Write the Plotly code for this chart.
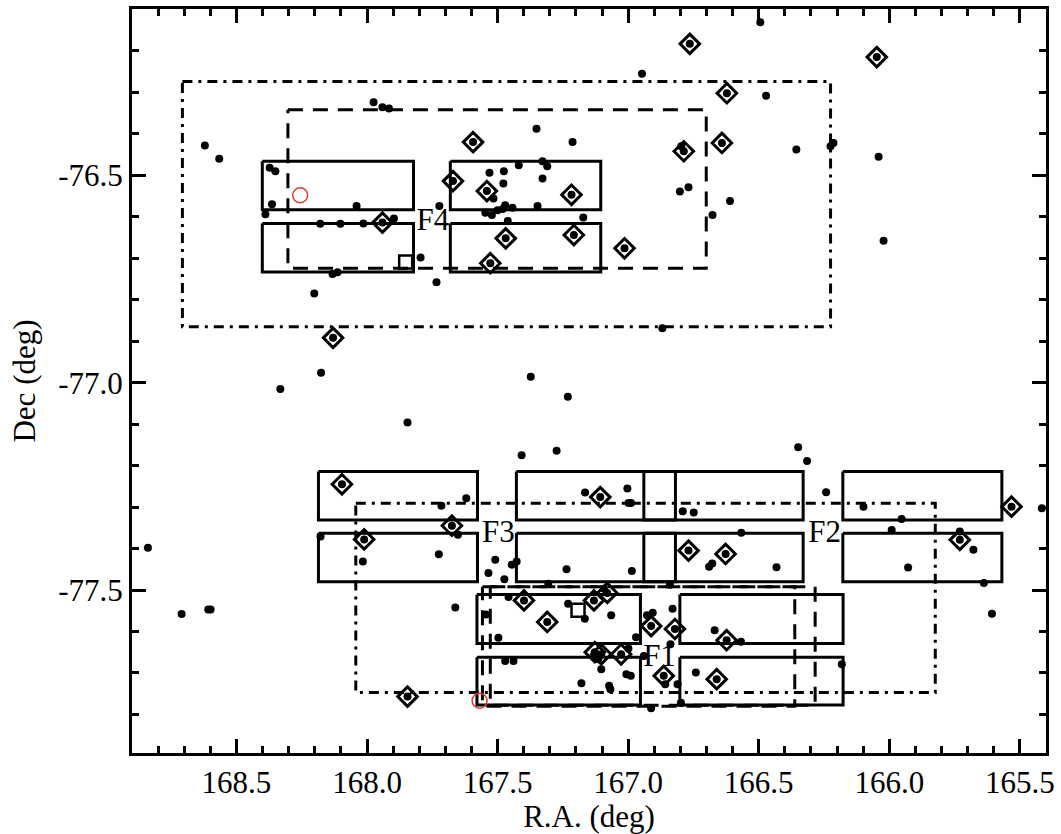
import plotly.graph_objects as go

# ---------------- data (R.A., Dec in degrees) ----------------
dots_ra = [168.621, 168.566, 167.975, 167.941, 167.916, 168.373, 168.351, 168.364, 168.389, 168.040,
           168.179, 168.102, 168.014, 167.897, 167.723, 167.795, 167.734, 168.202, 168.132, 168.113,
           168.176, 167.351, 167.213, 167.531, 167.476, 167.419, 167.328, 167.310, 167.478, 167.328,
           167.516, 167.547, 167.522, 167.500, 167.480, 167.471, 167.443, 167.347, 167.461, 167.172,
           166.494, 166.947, 166.472, 166.797, 166.356, 166.225, 166.214, 166.041, 166.022, 166.802,
           166.769, 166.610, 166.677, 166.869, 167.373,
           168.332, 167.845, 168.839, 168.710, 168.608, 168.599, 167.620, 167.715, 167.652, 168.178,
           168.016, 167.725, 167.662, 167.509, 167.535, 167.474, 167.446, 167.427, 167.236, 166.986,
           166.690, 166.678, 167.306, 166.840, 167.458, 167.230, 167.166, 167.093, 167.065, 166.970,
           167.497, 167.545, 166.928, 166.906, 166.830, 166.669, 166.838, 166.999, 167.115, 167.103,
           167.471, 167.439, 166.940, 167.007, 166.990, 167.179, 167.073, 167.068, 166.811, 166.741,
           166.912, 166.798, 166.349, 166.315, 166.242, 166.099, 165.953, 165.991, 166.791, 166.749,
           166.567, 166.432, 166.568, 166.182, 167.231, 167.408, 167.274, 167.165, 167.003, 166.999,
           166.989, 165.416, 165.730, 165.678, 165.928, 165.638, 165.607, 166.858]
dots_dec = [-76.428, -76.460, -76.324, -76.336, -76.339, -76.482, -76.490, -76.570, -76.594, -76.574,
            -76.617, -76.617, -76.616, -76.604, -76.574, -76.698, -76.758, -76.785, -76.738, -76.734,
            -76.976, -76.388, -76.420, -76.494, -76.490, -76.476, -76.466, -76.478, -76.520, -76.508,
            -76.556, -76.590, -76.596, -76.584, -76.581, -76.572, -76.578, -76.574, -76.610, -76.602,
            -76.131, -76.255, -76.308, -76.430, -76.438, -76.430, -76.422, -76.455, -76.658, -76.539,
            -76.529, -76.562, -76.596, -76.869, -76.986,
            -77.015, -77.096, -77.398, -77.558, -77.547, -77.547, -77.279, -77.297, -77.367, -77.371,
            -77.431, -77.414, -77.542, -77.427, -77.459, -77.474, -77.439, -77.431, -77.450, -77.454,
            -77.444, -77.436, -77.485, -77.487, -77.517, -77.533, -77.569, -77.497, -77.561, -77.614,
            -77.615, -77.559, -77.561, -77.555, -77.545, -77.597, -77.631, -77.641, -77.667, -77.691,
            -77.671, -77.671, -77.659, -77.703, -77.707, -77.725, -77.731, -77.739, -77.727, -77.699,
            -77.785, -77.772, -77.156, -77.189, -77.264, -77.299, -77.329, -77.355, -77.310, -77.313,
            -77.362, -77.445, -77.625, -77.679, -77.034, -77.175, -77.164, -77.265, -77.255, -77.290,
            -77.290, -77.303, -77.359, -77.403, -77.446, -77.483, -77.557, -77.727]

diam_ra = [167.941, 168.130, 167.594, 167.671, 167.541, 167.217, 167.469, 167.208, 167.014, 167.528,
           166.764, 166.048, 166.622, 166.787, 166.641, 168.096, 167.675, 168.011, 167.845, 167.107,
           165.532, 165.730, 166.769, 166.627, 167.399, 167.310, 167.131, 167.080, 166.912, 166.821,
           166.623, 167.128, 167.103, 167.027, 166.864, 166.661]
diam_dec = [-76.614, -76.892, -76.420, -76.514, -76.538, -76.547, -76.652, -76.644, -76.676, -76.712,
            -76.183, -76.215, -76.302, -76.442, -76.422, -77.245, -77.345, -77.378, -77.757, -77.276,
            -77.299, -77.379, -77.405, -77.413, -77.525, -77.577, -77.525, -77.507, -77.587, -77.594,
            -77.621, -77.650, -77.655, -77.655, -77.707, -77.715]

square_ra = [167.852, 167.192]
square_dec = [-76.709, -77.549]

redcirc_ra = [168.256, 167.569]
redcirc_dec = [-76.548, -77.767]

# rectangles: (ra_a, ra_b, dec_a, dec_b)
solid_rects = [
    (168.401, 167.822, -76.466, -76.583), (168.401, 167.822, -76.616, -76.733),
    (167.681, 167.105, -76.466, -76.583), (167.681, 167.105, -76.616, -76.733),
    (168.186, 167.577, -77.214, -77.331), (168.186, 167.577, -77.363, -77.480),
    (167.428, 166.819, -77.214, -77.331), (167.428, 166.819, -77.363, -77.480),
    (166.940, 166.330, -77.214, -77.331), (166.940, 166.330, -77.363, -77.480),
    (166.178, 165.569, -77.214, -77.331), (166.178, 165.569, -77.363, -77.480),
    (167.579, 166.953, -77.511, -77.629), (167.579, 166.953, -77.662, -77.777),
    (166.802, 166.177, -77.511, -77.629), (166.802, 166.177, -77.662, -77.777),
]
dashed_rects = [
    (168.303, 166.701, -76.342, -76.724),
    (167.558, 166.362, -77.492, -77.780),
    (167.528, 166.284, -77.492, -77.778),
]
dashdot_rects = [
    (168.707, 166.225, -76.274, -76.865),
    (168.043, 165.824, -77.291, -77.747),
]

field_names = ["F4", "F3", "F2", "F1"]
field_ra = [167.748, 167.497, 166.248, 166.880]
field_dec = [-76.614, -77.365, -77.365, -77.664]

x_ticks = [168.5, 168.0, 167.5, 167.0, 166.5, 166.0, 165.5]
x_ticktext = ["168.5", "168.0", "167.5", "167.0", "166.5", "166.0", "165.5"]
y_ticks = [-76.5, -77.0, -77.5]
y_ticktext = ["-76.5", "-77.0", "-77.5"]
x_range = [168.9, 165.4]
y_range = [-77.893, -76.099]

FONT = "Liberation Serif, Times New Roman, serif"


def rect_path(rects):
    xs, ys = [], []
    for ra0, ra1, d0, d1 in rects:
        xs += [ra0, ra1, ra1, ra0, ra0, None]
        ys += [d0, d0, d1, d1, d0, None]
    return xs, ys


fig = go.Figure()

for rects, dash in [(dashdot_rects, "10px,6px,3px,6px"), (dashed_rects, "15px,10px"), (solid_rects, "solid")]:
    xs, ys = rect_path(rects)
    fig.add_trace(go.Scatter(x=xs, y=ys, mode="lines", line=dict(color="black", width=3, dash=dash),
                             hoverinfo="skip", showlegend=False))

fig.add_trace(go.Scatter(x=dots_ra, y=dots_dec, mode="markers",
                         marker=dict(symbol="circle", size=8, color="black"), showlegend=False))
fig.add_trace(go.Scatter(x=diam_ra, y=diam_dec, mode="markers",
                         marker=dict(symbol="circle", size=8, color="black"), showlegend=False))
fig.add_trace(go.Scatter(x=diam_ra, y=diam_dec, mode="markers",
                         marker=dict(symbol="diamond-open", size=15, color="black", line=dict(width=3, color="black")),
                         showlegend=False))
fig.add_trace(go.Scatter(x=square_ra, y=square_dec, mode="markers",
                         marker=dict(symbol="square-open", size=13, color="black", line=dict(width=2.5, color="black")),
                         showlegend=False))
fig.add_trace(go.Scatter(x=redcirc_ra, y=redcirc_dec, mode="markers",
                         marker=dict(symbol="circle-open", size=15, color="#e03a2e", line=dict(width=1.5, color="#e03a2e")),
                         showlegend=False))
fig.add_trace(go.Scatter(x=field_ra, y=field_dec, mode="text", text=field_names,
                         textfont=dict(family=FONT, size=31, color="black"), textposition="middle center",
                         showlegend=False))
# empty trace that carries the overlay axes (tick frame drawn above everything)
fig.add_trace(go.Scatter(x=[], y=[], xaxis="x2", yaxis="y2", mode="markers", showlegend=False,
                         hoverinfo="skip"))

minor_ticks = dict(ticks="inside", ticklen=7, tickwidth=3, tickcolor="black", dtick=0.1)
tick_style = dict(ticks="inside", ticklen=14, tickwidth=3, tickcolor="black",
                  minor=minor_ticks, showline=True, linewidth=3, linecolor="black",
                  mirror="allticks", showgrid=False, zeroline=False)

fig.update_layout(
    width=1061, height=834, margin=dict(l=132, r=13, t=6, b=80),
    paper_bgcolor="white", plot_bgcolor="white", showlegend=False,
    xaxis=dict(range=x_range, tickmode="array", tickvals=x_ticks, ticktext=x_ticktext,
               tickfont=dict(family=FONT, size=31, color="black"),
               title=dict(text="R.A. (deg)", font=dict(family=FONT, size=31, color="black"), standoff=6),
               **tick_style),
    yaxis=dict(range=y_range, tickmode="array", tickvals=y_ticks, ticktext=y_ticktext,
               tickfont=dict(family=FONT, size=31, color="black"),
               title=dict(text="Dec (deg)", font=dict(family=FONT, size=31, color="black"), standoff=14),
               **tick_style),
    xaxis2=dict(range=x_range, overlaying="x", anchor="y2", side="bottom",
                tickmode="array", tickvals=x_ticks, showticklabels=False, **tick_style),
    yaxis2=dict(range=y_range, overlaying="y", anchor="x2", side="left",
                tickmode="array", tickvals=y_ticks, showticklabels=False, **tick_style),
)

fig.write_html("out.html")
